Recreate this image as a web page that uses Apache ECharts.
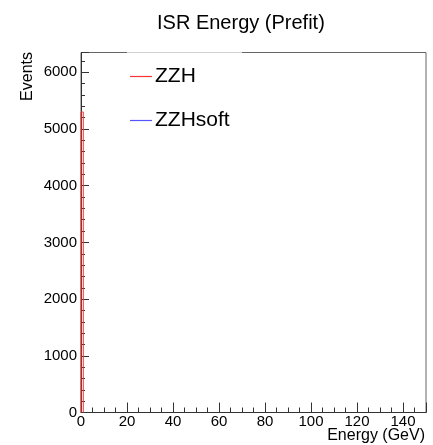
<!DOCTYPE html>
<html>
<head>
<meta charset="utf-8">
<script src="https://cdn.jsdelivr.net/npm/echarts@6/dist/echarts.min.js"></script>
<style>
html,body{margin:0;padding:0;background:#fff;}
#chart{width:433px;height:445px;}
</style>
</head>
<body>
<div id="chart"></div>
<script>
// histogram bin edges (GeV) and contents
var binEdges = [0, 1, 150];
var zzh = [5300, 0];
var zzhsoft = [0, 0];
var seriesNames = ['ZZH', 'ZZHsoft'];
var seriesColors = ['#ff3333', '#5555ff'];

// outline of the filled bins only (empty bins sit under the x axis)
function stepData(edges, vals) {
	var pts = [];
	for (var i = 0; i < vals.length; i++) {
		if (!vals[i]) continue;
		pts.push([edges[i], 0]);
		pts.push([edges[i], vals[i]]);
		pts.push([edges[i + 1], vals[i]]);
		pts.push([edges[i + 1], 0]);
		pts.push(null);
	}
	return pts;
}

var font = 'Liberation Sans, Arial, Helvetica, sans-serif';
var chart = echarts.init(document.getElementById('chart'));

chart.setOption({
	animation: false,
	title: {
		text: 'ISR Energy (Prefit)',
		left: 152,
		top: 8,
		textStyle: {fontFamily: font, fontSize: 20, fontWeight: 'normal', color: '#000'}
	},
	legend: {
		orient: 'vertical',
		left: 125,
		top: 61,
		itemGap: 23,
		itemWidth: 22,
		itemHeight: 1.2,
		icon: 'rect',
		data: seriesNames,
		textStyle: {fontFamily: font, fontSize: 21, color: '#000', padding: [0, 0, 0, -2]}
	},
	grid: {
		left: 81,
		right: 7,
		top: 52.5,
		bottom: 32.5,
		outerBoundsMode: 'none',
		containLabel: false,
		show: true,
		borderColor: '#666',
		borderWidth: 1
	},
	xAxis: {
		type: 'value',
		min: 0,
		max: 150,
		interval: 20,
		axisLine: {onZero: false, lineStyle: {color: '#333'}},
		axisTick: {inside: true, length: 10, lineStyle: {color: '#333'}},
		minorTick: {show: true, splitNumber: 4, length: 5, lineStyle: {color: '#333'}},
		splitLine: {show: false},
		axisLabel: {
			margin: 2,
			fontFamily: font, fontSize: 15, color: '#000',
			formatter: function (v) { return v > 140 ? '' : String(v); }
		}
	},
	yAxis: {
		type: 'value',
		min: 0,
		max: 6350,
		interval: 1000,
		axisLine: {show: true, lineStyle: {color: '#333'}},
		axisTick: {show: true, inside: true, length: 8, lineStyle: {color: '#333'}},
		minorTick: {show: true, splitNumber: 5, length: 4, lineStyle: {color: '#333'}},
		splitLine: {show: false},
		axisLabel: {
			margin: 4,
			fontFamily: font, fontSize: 15, color: '#000',
			formatter: function (v) { return v > 6000 ? '' : String(v); }
		}
	},
	graphic: [
		{
			type: 'text',
			x: 27.5,
			y: 52,
			rotation: Math.PI / 2,
			style: {text: 'Events', font: '16px ' + font, fill: '#000', align: 'right', verticalAlign: 'middle'}
		},
		{
			type: 'text',
			x: 425,
			y: 444,
			style: {text: 'Energy (GeV)', font: '16px ' + font, fill: '#000', align: 'right', verticalAlign: 'bottom'}
		},
		{
			type: 'line',
			z: 100,
			shape: {x1: 127, y1: 52.5, x2: 242, y2: 52.5},
			style: {stroke: '#d0d0d0', lineWidth: 1}
		}
	],
	series: [
		{
			name: seriesNames[0],
			type: 'line',
			data: stepData(binEdges, zzh),
			showSymbol: false,
			color: seriesColors[0],
			lineStyle: {width: 1, color: seriesColors[0]},
			z: 2
		},
		{
			name: seriesNames[1],
			type: 'line',
			data: stepData(binEdges, zzhsoft),
			showSymbol: false,
			color: seriesColors[1],
			lineStyle: {width: 1, color: seriesColors[1]},
			z: 1
		}
	]
});
</script>
</body>
</html>
